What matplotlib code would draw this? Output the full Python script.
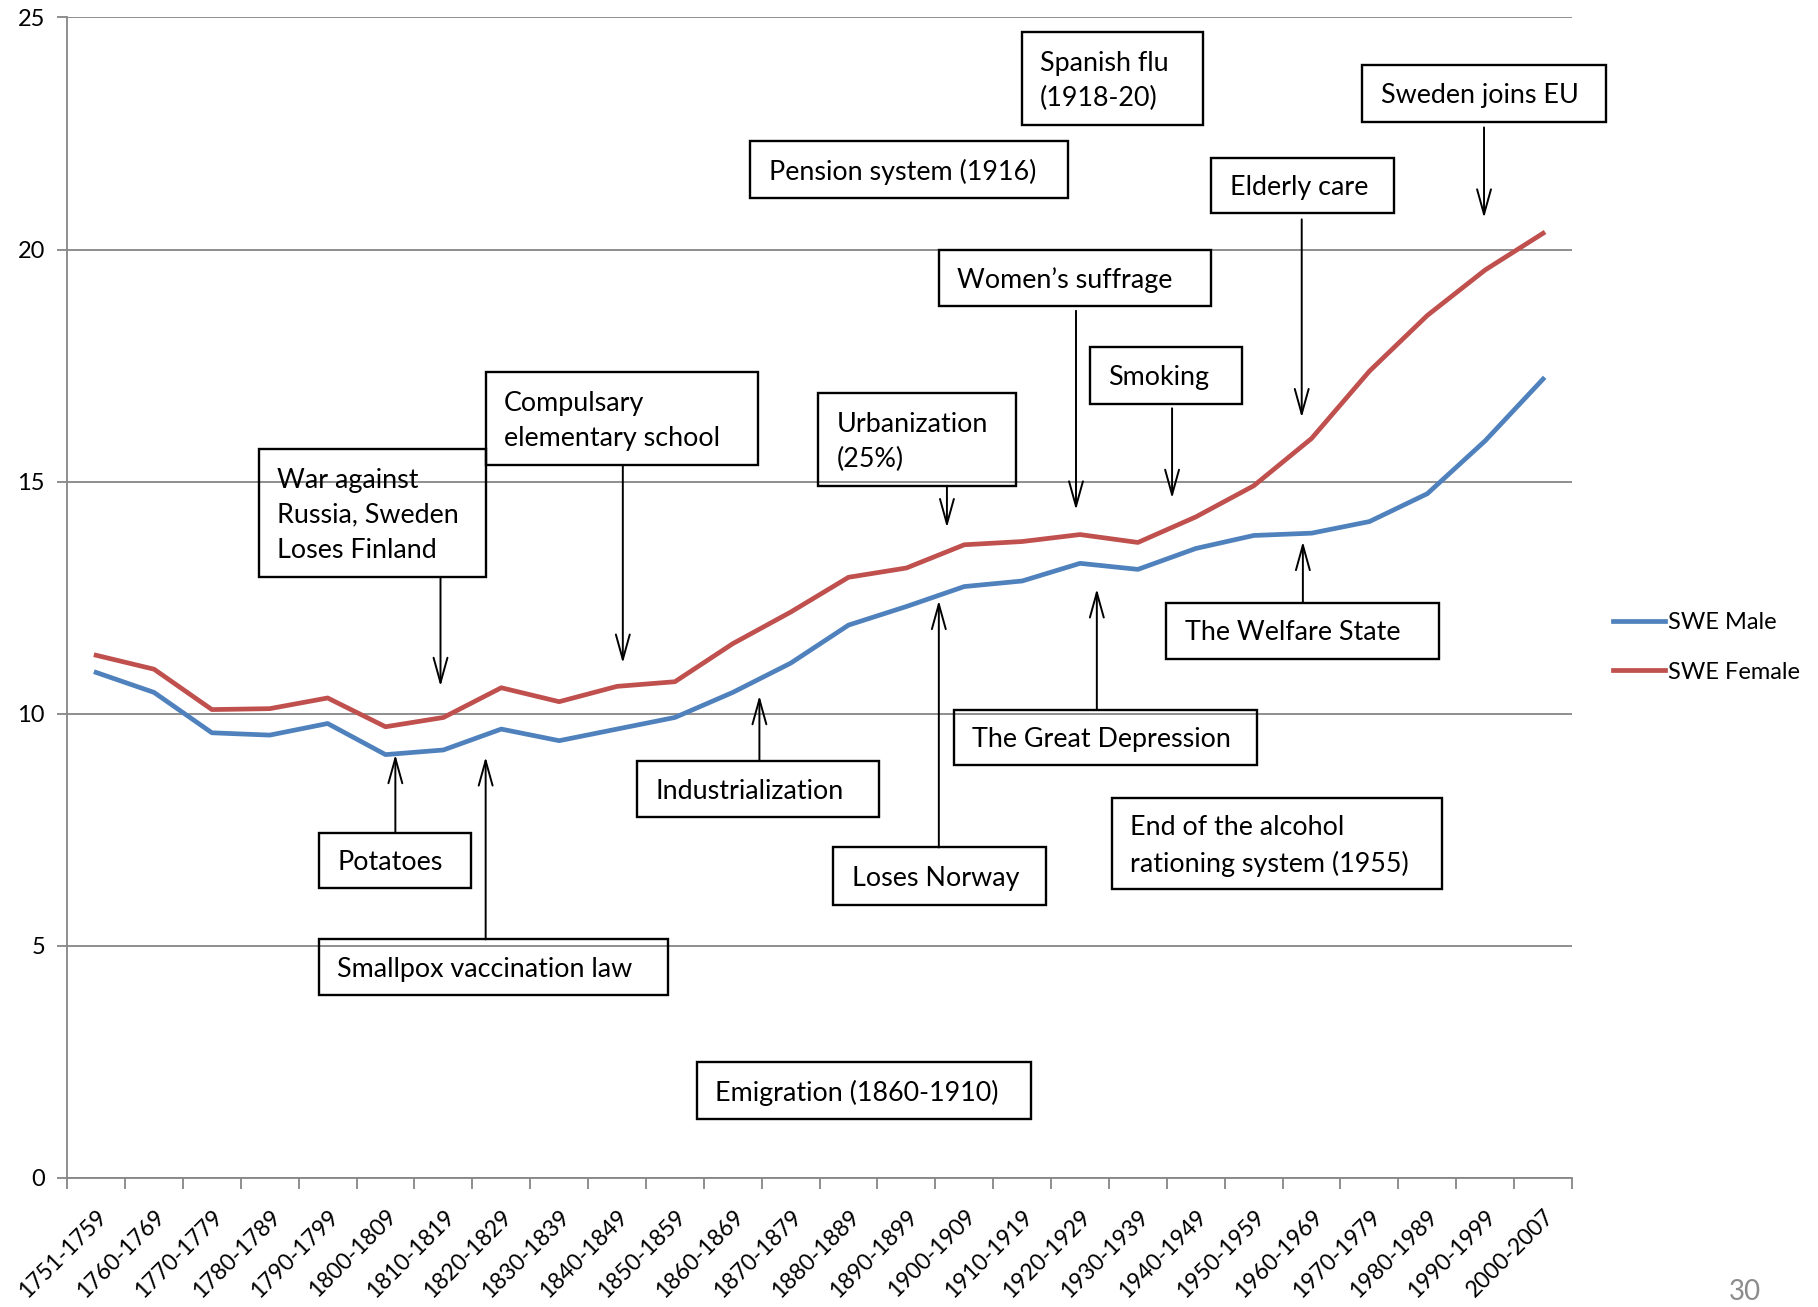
import matplotlib
matplotlib.use("Agg")
import matplotlib.pyplot as plt
from matplotlib.patches import Rectangle

plt.rcParams['font.family'] = ['Lato', 'DejaVu Sans']

# decades
periods = ["1751-1759", "1760-1769", "1770-1779", "1780-1789", "1790-1799",
           "1800-1809", "1810-1819", "1820-1829", "1830-1839", "1840-1849",
           "1850-1859", "1860-1869", "1870-1879", "1880-1889", "1890-1899",
           "1900-1909", "1910-1919", "1920-1929", "1930-1939", "1940-1949",
           "1950-1959", "1960-1969", "1970-1979", "1980-1989", "1990-1999",
           "2000-2007"]

# remaining life expectancy at 65
swe_male = [10.89, 10.46, 9.59, 9.54, 9.79, 9.12, 9.22, 9.67, 9.42, 9.67,
            9.92, 10.46, 11.09, 11.91, 12.31, 12.74, 12.86, 13.24, 13.11, 13.56,
            13.84, 13.89, 14.14, 14.74, 15.88, 17.21]
swe_female = [11.26, 10.96, 10.09, 10.11, 10.34, 9.72, 9.92, 10.56, 10.26, 10.59,
              10.69, 11.51, 12.19, 12.94, 13.14, 13.64, 13.71, 13.86, 13.69, 14.24,
              14.91, 15.93, 17.38, 18.58, 19.56, 20.35]

# event boxes: text, left, bottom, right, top (x in category units, y in data)
events = [
    ("Spanish flu\n(1918-20)", 15.99, 22.68, 19.13, 24.68),
    ("Sweden joins EU", 21.88, 22.75, 26.08, 23.98),
    ("Pension system (1916)", 11.30, 21.10, 16.79, 22.33),
    ("Elderly care", 19.27, 20.78, 22.42, 21.98),
    ("Women\u2019s suffrage", 14.56, 18.78, 19.27, 20.00),
    ("Smoking", 17.17, 16.68, 19.79, 17.91),
    ("Compulsary\nelementary school", 6.73, 15.36, 11.44, 17.36),
    ("Urbanization\n(25%)", 12.48, 14.91, 15.89, 16.91),
    ("War against\nRussia, Sweden\nLoses Finland", 2.81, 12.94, 6.73, 15.71),
    ("The Welfare State", 18.49, 11.19, 23.20, 12.39),
    ("The Great Depression", 14.82, 8.89, 20.05, 10.09),
    ("Industrialization", 9.34, 7.77, 13.52, 8.99),
    ("End of the alcohol\nrationing system (1955)", 17.55, 6.22, 23.26, 8.19),
    ("Potatoes", 3.85, 6.24, 6.47, 7.44),
    ("Loses Norway", 12.74, 5.89, 16.41, 7.12),
    ("Smallpox vaccination law", 3.85, 3.95, 9.88, 5.14),
    ("Emigration (1860-1910)", 10.38, 1.27, 16.15, 2.50),
]

# arrows: x, y start, y tip
arrows = [
    (23.98, 22.63, 20.68),
    (20.83, 20.65, 16.38),
    (16.93, 18.68, 14.39),
    (18.59, 16.58, 14.64),
    (9.10, 15.36, 11.09),
    (14.70, 14.91, 14.01),
    (5.95, 12.94, 10.59),
    (20.85, 12.39, 13.71),
    (17.29, 10.09, 12.69),
    (11.46, 8.99, 10.39),
    (5.17, 7.44, 9.12),
    (14.56, 7.12, 12.44),
    (6.73, 5.14, 9.07),
]

fig = plt.figure(figsize=(18.18, 13.07), dpi=100)
ax = fig.add_axes([0.03696, 0.0987, 0.82773, 0.88799])

x = list(range(len(periods)))
ax.plot(x, swe_male, color="#4F81BD", lw=3.4, label="SWE Male", zorder=3)
ax.plot(x, swe_female, color="#C0504D", lw=3.4, label="SWE Female", zorder=3)

ax.set_xlim(-0.5, len(periods) - 0.5)
ax.set_ylim(0, 25)
ax.set_yticks([0, 5, 10, 15, 20, 25])
ax.yaxis.grid(True, color="#868686", lw=1.3)
ax.set_axisbelow(True)
for s in ["top", "right"]:
    ax.spines[s].set_visible(False)
for s in ["left", "bottom"]:
    ax.spines[s].set_color("#868686")
    ax.spines[s].set_linewidth(1.3)

ax.set_xticks([i - 0.5 for i in range(len(periods) + 1)])
ax.set_xticklabels([])
ax.set_xticks(x, minor=True)
ax.set_xticklabels(periods, minor=True, rotation=45, ha="right",
                   rotation_mode="anchor", fontsize=16.5)
ax.tick_params(axis="x", which="major", length=8, width=1.3, color="#868686")
ax.tick_params(axis="x", which="minor", length=0, pad=20)
ax.tick_params(axis="y", length=7, width=1.3, color="#868686", labelsize=17, pad=9)

for label, x0, y0, x1, y1 in events:
    ax.add_patch(Rectangle((x0, y0), x1 - x0, y1 - y0, fill=False,
                           edgecolor="black", lw=1.7, clip_on=False, zorder=5))
    ax.text(x0 + 0.32, (y0 + y1) / 2 - 0.05, label, ha="left", va="center",
            fontsize=19.4, linespacing=1.5, zorder=6, clip_on=False)

for ax_x, y_from, y_to in arrows:
    ax.annotate("", xy=(ax_x, y_to), xytext=(ax_x, y_from),
                arrowprops=dict(arrowstyle="->,head_length=1.8,head_width=0.5",
                                lw=1.4, color="black", shrinkA=0, shrinkB=0,
                                mutation_scale=10),
                annotation_clip=False, zorder=6)

fig.legend(loc="center left", bbox_to_anchor=(0.8875, 0.5046), frameon=False,
           fontsize=17, handlelength=2.2, handletextpad=0.1, labelspacing=1.2,
           borderpad=0, borderaxespad=0)

fig.text(0.951, 0.0015, "30", color="#8C8C8C", fontsize=20, va="bottom")

fig.savefig("out.png", dpi=100)
